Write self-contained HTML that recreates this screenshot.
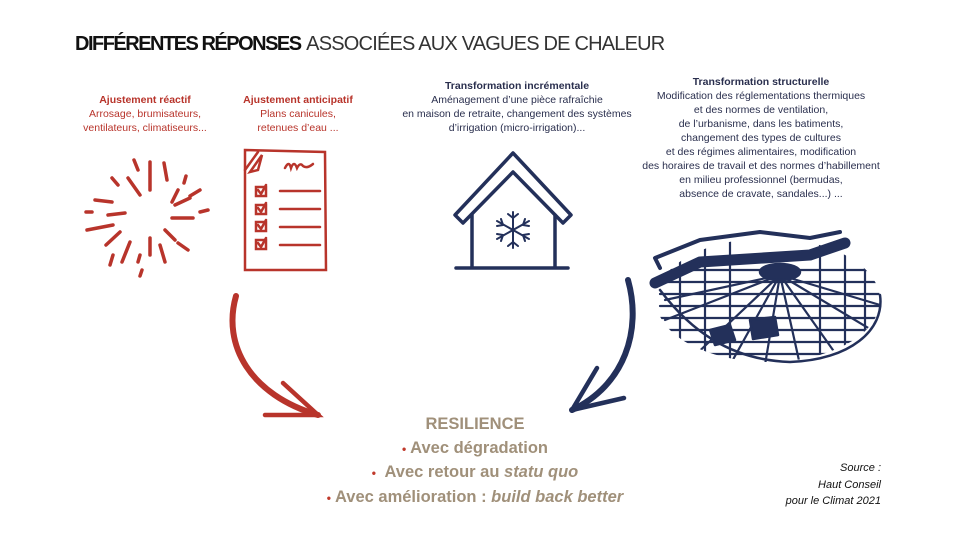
<!DOCTYPE html>
<html><head><meta charset="utf-8"><style>
body{margin:0;width:953px;height:546px;background:#fff;position:relative;overflow:hidden;font-family:"Liberation Sans",sans-serif}
.t{position:absolute;text-align:center;font-size:10.5px;line-height:14px;white-space:nowrap;transform:translateX(-50%)}
.r{color:#b8342b}.n{color:#2a2f4e}
b{font-weight:bold}
#title{position:absolute;left:75px;top:33px;font-size:20px;white-space:nowrap;color:#111}
#title b{letter-spacing:-1.5px}
#title span{letter-spacing:-0.8px}
#res{position:absolute;left:475px;top:413px;transform:translateX(-50%);text-align:center;color:#a0907a;font-weight:bold;font-size:16.5px;line-height:23.5px;white-space:nowrap}
#res .d{color:#c0392b;font-size:12px}
#src{position:absolute;right:72px;top:460px;text-align:right;font-style:italic;font-size:11px;line-height:16.5px;color:#111}
</style></head><body>
<div id="title"><b>DIFFÉRENTES RÉPONSES</b> <span style="font-weight:normal;color:#333">ASSOCIÉES AUX VAGUES DE CHALEUR</span></div>

<div class="t r" style="left:145px;top:93px"><b>Ajustement réactif</b><br>Arrosage, brumisateurs,<br>ventilateurs, climatiseurs...</div>
<div class="t r" style="left:298px;top:93px"><b>Ajustement anticipatif</b><br>Plans canicules,<br>retenues d’eau ...</div>
<div class="t n" style="left:517px;top:79px"><b>Transformation incrémentale</b><br>Aménagement d’une pièce rafraîchie<br>en maison de retraite, changement des systèmes<br>d’irrigation (micro-irrigation)...</div>
<div class="t n" style="left:761px;top:75px"><b>Transformation structurelle</b><br>Modification des réglementations thermiques<br>et des normes de ventilation,<br>de l’urbanisme, dans les batiments,<br>changement des types de cultures<br>et des régimes alimentaires, modification<br>des horaires de travail et des normes d’habillement<br>en milieu professionnel (bermudas,<br>absence de cravate, sandales...) ...</div>

<svg width="953" height="546" style="position:absolute;left:0;top:0">
<defs><clipPath id="cp"><ellipse cx="768" cy="300" rx="112" ry="62"/></clipPath></defs>
<g stroke="#b8342b" stroke-linecap="round" fill="none">
<g stroke-width="3.5">
<line x1="150" y1="162" x2="150" y2="190"/><line x1="134" y1="160" x2="138" y2="170"/><line x1="164" y1="163" x2="167" y2="180"/>
<line x1="112" y1="178" x2="118" y2="185"/><line x1="128" y1="178" x2="140" y2="195"/><line x1="178" y1="190" x2="172" y2="202"/>
<line x1="186" y1="176" x2="184" y2="183"/><line x1="200" y1="190" x2="190" y2="196"/><line x1="175" y1="205" x2="190" y2="198"/>
<line x1="95" y1="200" x2="112" y2="202"/><line x1="108" y1="215" x2="125" y2="213"/><line x1="172" y1="218" x2="193" y2="218"/>
<line x1="86" y1="212" x2="92" y2="212"/><line x1="87" y1="230" x2="113" y2="225"/><line x1="106" y1="245" x2="120" y2="232"/>
<line x1="165" y1="230" x2="175" y2="240"/><line x1="178" y1="243" x2="188" y2="250"/><line x1="150" y1="238" x2="150" y2="255"/>
<line x1="130" y1="242" x2="122" y2="262"/><line x1="113" y1="255" x2="110" y2="265"/><line x1="160" y1="245" x2="165" y2="262"/>
<line x1="140" y1="255" x2="138" y2="262"/><line x1="142" y1="270" x2="140" y2="276"/><line x1="200" y1="212" x2="208" y2="210"/>
</g>
<g stroke-width="2.5">
<path d="M245 150 L325 152 L326 270 L245 270 Z"/>
<path d="M245 170 L258 152"/><path d="M250 172 L262 155 L258 170 Z"/>
<path d="M285 168 q4 -8 6 0 q3 -8 6 0 q3 -6 6 -2 q4 3 10 -2"/>
<rect x="256" y="187" width="10" height="9"/><rect x="256" y="205" width="10" height="9"/><rect x="256" y="222" width="10" height="9"/><rect x="256" y="240" width="10" height="9"/>
<path d="M258 190 l3 4 l5 -9 M258 208 l3 4 l5 -9 M258 225 l3 4 l5 -9 M258 243 l3 4 l5 -9"/>
<line x1="280" y1="191" x2="320" y2="191"/><line x1="280" y1="209" x2="320" y2="209"/><line x1="280" y1="227" x2="320" y2="227"/><line x1="280" y1="245" x2="320" y2="245"/>
</g>
<path d="M236 296 C222 345 250 395 318 415" stroke-width="6"/>
<path d="M265 415 L318 415 L283 383" stroke-width="4.5"/>
</g>
<g stroke="#23305a" stroke-linecap="round" stroke-linejoin="round" fill="none">
<path d="M455 215 L513 153 L571 215 L563 223 L513 172 L463 223 Z" stroke-width="3.5"/>
<path d="M472 215 L472 268 M555 215 L555 268 M456 268 L568 268" stroke-width="3.5"/>
<g stroke-width="2"><line x1="513" y1="212" x2="513" y2="248"/><line x1="497" y1="221" x2="529" y2="239"/><line x1="497" y1="239" x2="529" y2="221"/>
<path d="M508 214 l5 4 l5 -4 M508 246 l5 -4 l5 4 M497 226 l6 -1 l-2 -6 M529 234 l-6 1 l2 6 M497 234 l6 1 l-2 6 M529 226 l-6 -1 l2 -6"/></g>
<path d="M628 280 C642 330 625 385 572 410" stroke-width="6"/>
<path d="M597 368 L572 410 L624 398" stroke-width="4.5"/>
<g stroke-width="2.2" clip-path="url(#cp)">
<path d="M660 270 L880 270 M660 282 L880 282 M660 294 L880 294 M660 306 L880 306 M660 318 L880 318 M660 330 L880 330 M660 342 L880 342 M660 354 L880 354"/>
<path d="M780 275 L690 360 M780 275 L730 365 M780 275 L765 365 M780 275 L800 365 M780 275 L840 360 M780 275 L880 335 M780 275 L880 305 M780 275 L665 320 M780 275 L665 300"/>
<path d="M680 250 L680 360 M705 240 L705 360 M730 240 L730 360 M820 240 L820 360 M845 240 L845 360 M865 240 L865 360"/>
</g>
<g stroke-width="2.5">
<path d="M660 268 L655 258 L700 240 L760 232 L810 238 L840 232" stroke-width="4"/>
<path d="M655 283 L700 262 L810 255 L845 243" stroke-width="11"/>
<path d="M660 290 C690 330 730 360 790 362 C850 360 885 330 880 295"/>
<ellipse cx="780" cy="272" rx="20" ry="8" fill="#23305a"/>
<path d="M710 330 l20 -5 l5 15 l-20 5z M750 320 l25 -3 l3 18 l-25 4z" fill="#23305a"/>
</g>
</g>
</svg>

<div id="res">RESILIENCE<br><span class="d">•</span> Avec dégradation<br><span class="d">•</span>&nbsp; Avec retour au <i>statu quo</i><br><span class="d">•</span> Avec amélioration : <i>build back better</i></div>
<div id="src">Source :<br>Haut Conseil<br>pour le Climat 2021</div>
</body></html>
